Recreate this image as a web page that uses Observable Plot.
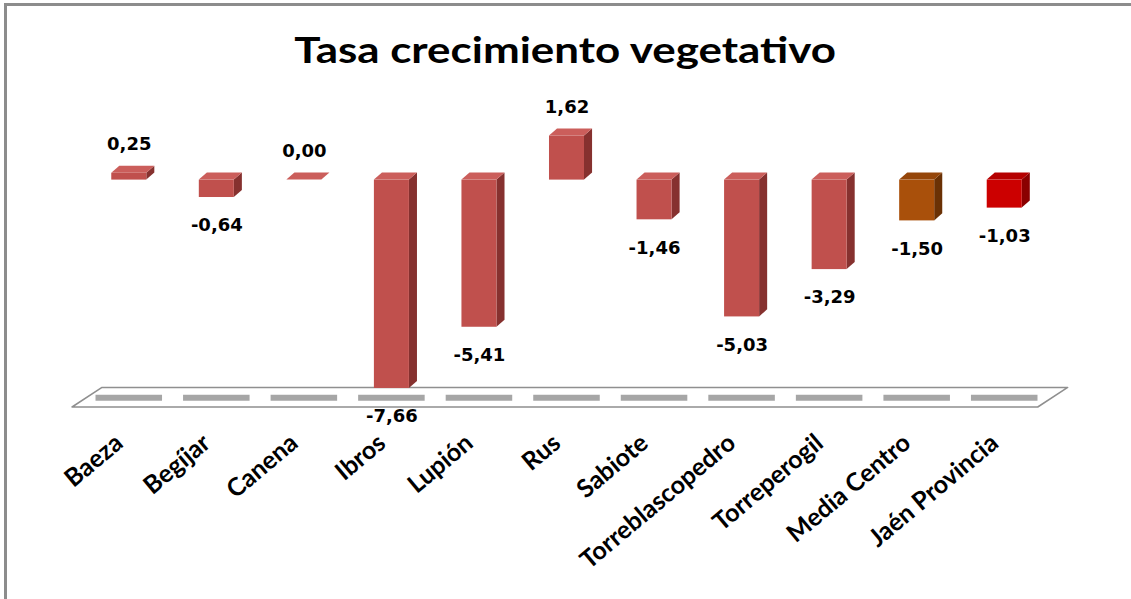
<!DOCTYPE html>
<html><head><meta charset="utf-8">
<script src="https://cdn.jsdelivr.net/npm/d3@7"></script>
<script src="https://cdn.jsdelivr.net/npm/@observablehq/plot@0.6"></script>
<style>
body{margin:0;background:#fff;}
#frame{position:relative;width:1131px;height:599px;overflow:hidden;background:#fff;}
#border{position:absolute;left:4px;top:3px;width:2000px;height:2000px;border-left:3px solid #8c8c8c;border-top:3px solid #8c8c8c;pointer-events:none;}
#title{height:96px;box-sizing:border-box;padding-top:29px;line-height:40px;font-family:Lato,"Open Sans",sans-serif;font-weight:bold;font-size:36px;text-align:center;color:#000;}
#title span{display:inline-block;transform:scaleX(1.22);transform-origin:center;}
#chart svg{display:block;}
</style></head>
<body>
<div id="frame">
<div id="border"></div>
<div id="title"><span>Tasa crecimiento vegetativo</span></div>
<div id="chart"></div>
</div>
<script>
const categories = ["Baeza","Begíjar","Canena","Ibros","Lupión","Rus","Sabiote","Torreblascopedro","Torreperogil","Media Centro","Jaén Provincia"];
const values = [0.25,-0.64,0.00,-7.66,-5.41,1.62,-1.46,-5.03,-3.29,-1.50,-1.03];
const kinds = ["municipio","municipio","municipio","municipio","municipio","municipio","municipio","municipio","municipio","media","provincia"];

const palette = {
  municipio: {front:"#C0504D", side:"#86312F", top:"#CB5E5B"},
  media:     {front:"#A9500B", side:"#6A3105", top:"#95460A"},
  provincia: {front:"#CC0000", side:"#8A0000", top:"#B50000"}
};
const fmt = d3.formatLocale({decimal:",", thousands:".", grouping:[3], currency:["","€"], minus:"-"}).format(".2f");

const W = 0.2, D = 0.092, H = 0.26;
const rows = categories.map((c,i)=>({i, c, v:values[i], kind:kinds[i], lo:Math.min(0,values[i]), hi:Math.max(0,values[i])}));
const sidePts = rows.flatMap(r=>[
  {key:r.c, kind:r.kind, x:r.i+W,   y1:r.lo,   y2:r.hi},
  {key:r.c, kind:r.kind, x:r.i+W+D, y1:r.lo+H, y2:r.hi+H}]);
const topPts = rows.flatMap(r=>[
  {key:r.c, kind:r.kind, x:r.i-W,   y1:r.hi,   y2:r.hi},
  {key:r.c, kind:r.kind, x:r.i-W+D, y1:r.hi,   y2:r.hi+H},
  {key:r.c, kind:r.kind, x:r.i+W,   y1:r.hi,   y2:r.hi+H},
  {key:r.c, kind:r.kind, x:r.i+W+D, y1:r.hi+H, y2:r.hi+H}]);

const floorBack = -7.64, floorFront = -8.36, floorL = -0.306, floorR = 10.725, floorShift = 0.342;
const floorPts = [
  {x:floorL-floorShift, y1:floorFront, y2:floorFront},
  {x:floorL,            y1:floorFront, y2:floorBack},
  {x:floorR-floorShift, y1:floorFront, y2:floorBack},
  {x:floorR,            y1:floorBack,  y2:floorBack}];

const chart = Plot.plot({
  width: 1131,
  height: 503,
  marginTop: 2,
  marginBottom: 192,
  marginLeft: 85,
  marginRight: 83,
  style: {fontFamily:"'DejaVu Sans', sans-serif", fontSize:"18px", fontWeight:"bold", color:"#000", background:"transparent"},
  x: {type:"linear", domain:[-0.5,10.5], axis:null},
  y: {domain:[-8.36,3], axis:null},
  color: {type:"identity"},
  marks: [
    Plot.areaY(floorPts, {x:"x", y1:"y1", y2:"y2", fill:"#ffffff", stroke:"#8f8f8f", strokeWidth:1.5}),
    Plot.ruleY(rows, {y:-8.0, x1:r=>r.i-0.38, x2:r=>r.i+0.38, stroke:"#a6a6a6", strokeWidth:6}),
    Plot.areaY(sidePts, {x:"x", y1:"y1", y2:"y2", z:"key", fill:d=>palette[d.kind].side}),
    Plot.areaY(topPts, {x:"x", y1:"y1", y2:"y2", z:"key", fill:d=>palette[d.kind].top}),
    Plot.rect(rows, {x1:r=>r.i-W, x2:r=>r.i+W, y1:"lo", y2:"hi", fill:r=>palette[r.kind].front}),
    Plot.text(rows.filter(r=>r.v>=0), {x:"i", y:"hi", text:r=>fmt(r.v), lineAnchor:"bottom", dy:-23, fill:"#000"}),
    Plot.text(rows.filter(r=>r.v<0), {x:"i", y:"lo", text:r=>fmt(r.v), lineAnchor:"top", dy:21, fill:"#000"}),
    Plot.axisX(rows.map(r=>r.i), {tickFormat:i=>categories[i], tickRotate:-40, tickSize:0, tickPadding:32, dx:-10, fontFamily:"Lato, sans-serif", fontSize:25, fontWeight:"bold", fill:"#000"})
  ]
});
document.getElementById("chart").appendChild(chart);
</script>
</body></html>
